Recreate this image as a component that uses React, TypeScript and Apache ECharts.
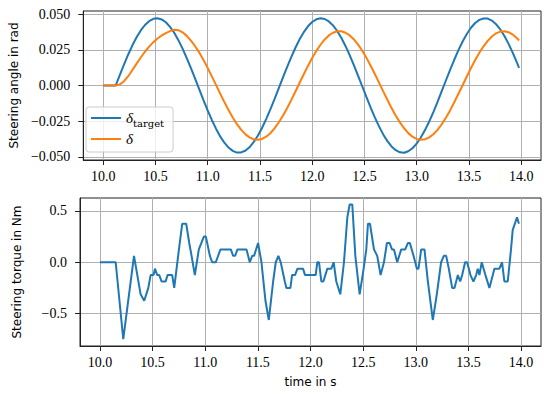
import React, { useEffect, useRef } from "react";
import * as echarts from "echarts";

// ---------- data ----------
const angleTime = [
  10.00, 10.04, 10.08, 10.12, 10.16, 10.20, 10.24, 10.28, 10.32, 10.36,
  10.40, 10.44, 10.48, 10.52, 10.56, 10.60, 10.64, 10.68, 10.72, 10.76,
  10.80, 10.84, 10.88, 10.92, 10.96, 11.00, 11.04, 11.08, 11.12, 11.16,
  11.20, 11.24, 11.28, 11.32, 11.36, 11.40, 11.44, 11.48, 11.52, 11.56,
  11.60, 11.64, 11.68, 11.72, 11.76, 11.80, 11.84, 11.88, 11.92, 11.96,
  12.00, 12.04, 12.08, 12.12, 12.16, 12.20, 12.24, 12.28, 12.32, 12.36,
  12.40, 12.44, 12.48, 12.52, 12.56, 12.60, 12.64, 12.68, 12.72, 12.76,
  12.80, 12.84, 12.88, 12.92, 12.96, 13.00, 13.04, 13.08, 13.12, 13.16,
  13.20, 13.24, 13.28, 13.32, 13.36, 13.40, 13.44, 13.48, 13.52, 13.56,
  13.60, 13.64, 13.68, 13.72, 13.76, 13.80, 13.84, 13.88, 13.92, 13.96,
  13.98,
];

const deltaTarget = [
  0, 0, 0, 0, 0.0075, 0.0148, 0.0217, 0.0281, 0.0337, 0.0385,
  0.0423, 0.0450, 0.0466, 0.0470, 0.0462, 0.0442, 0.0410, 0.0369, 0.0317, 0.0258,
  0.0192, 0.0122, 0.0048, -0.0027, -0.0102, -0.0174, -0.0241, -0.0302, -0.0356, -0.0400,
  -0.0434, -0.0457, -0.0469, -0.0468, -0.0456, -0.0432, -0.0396, -0.0351, -0.0297, -0.0235,
  -0.0167, -0.0095, -0.0020, 0.0055, 0.0129, 0.0199, 0.0264, 0.0323, 0.0373, 0.0414,
  0.0444, 0.0463, 0.0470, 0.0465, 0.0448, 0.0420, 0.0381, 0.0332, 0.0275, 0.0211,
  0.0141, 0.0068, -0.0007, -0.0082, -0.0155, -0.0223, -0.0286, -0.0342, -0.0389, -0.0426,
  -0.0452, -0.0467, -0.0470, -0.0460, -0.0439, -0.0407, -0.0364, -0.0312, -0.0252, -0.0186,
  -0.0115, -0.0040, 0.0035, 0.0109, 0.0180, 0.0247, 0.0308, 0.0360, 0.0404, 0.0437,
  0.0459, 0.0469, 0.0468, 0.0454, 0.0429, 0.0392, 0.0346, 0.0291, 0.0228, 0.0160,
  0.0124,
];

const deltaActual = [
  0, 0, 0, 0, 0.0008, 0.0030, 0.0065, 0.0108, 0.0153, 0.0196,
  0.0236, 0.0272, 0.0303, 0.0329, 0.0350, 0.0366, 0.0380, 0.0390, 0.0387, 0.0372,
  0.0347, 0.0314, 0.0275, 0.0230, 0.0179, 0.0123, 0.0064, 0.0004, -0.0057, -0.0116,
  -0.0172, -0.0224, -0.0270, -0.0309, -0.0340, -0.0363, -0.0376, -0.0380, -0.0374, -0.0358,
  -0.0334, -0.0300, -0.0259, -0.0212, -0.0159, -0.0102, -0.0042, 0.0019, 0.0079, 0.0137,
  0.0192, 0.0242, 0.0285, 0.0322, 0.0350, 0.0369, 0.0379, 0.0379, 0.0369, 0.0350,
  0.0322, 0.0286, 0.0243, 0.0193, 0.0138, 0.0080, 0.0020, -0.0041, -0.0100, -0.0158,
  -0.0211, -0.0258, -0.0299, -0.0333, -0.0358, -0.0374, -0.0380, -0.0376, -0.0363, -0.0341,
  -0.0310, -0.0271, -0.0225, -0.0174, -0.0117, -0.0058, 0.0002, 0.0063, 0.0122, 0.0178,
  0.0229, 0.0274, 0.0312, 0.0343, 0.0365, 0.0377, 0.0380, 0.0373, 0.0356, 0.0331,
  0.0315,
];

const torqueTime = [
  10.00, 10.149, 10.221, 10.323, 10.386, 10.42, 10.459, 10.481, 10.509, 10.522,
  10.544, 10.563, 10.585, 10.623, 10.642, 10.686, 10.705, 10.75, 10.781, 10.819,
  10.848, 10.87, 10.901, 10.939, 10.987, 11.006, 11.044, 11.066, 11.10, 11.145,
  11.243, 11.265, 11.284, 11.306, 11.392, 11.423, 11.446, 11.464, 11.502, 11.534,
  11.572, 11.604, 11.645, 11.67, 11.695, 11.717, 11.756, 11.771, 11.809, 11.825,
  11.853, 11.876, 11.929, 11.948, 12.049, 12.065, 12.081, 12.103, 12.122, 12.16,
  12.198, 12.22, 12.245, 12.283, 12.318, 12.35, 12.372, 12.397, 12.426, 12.467,
  12.505, 12.53, 12.546, 12.565, 12.603, 12.634, 12.666, 12.698, 12.726, 12.752,
  12.774, 12.793, 12.824, 12.862, 12.90, 12.925, 12.944, 12.979, 13.011, 13.026,
  13.052, 13.083, 13.115, 13.162, 13.20, 13.241, 13.267, 13.289, 13.314, 13.346,
  13.368, 13.40, 13.422, 13.441, 13.469, 13.488, 13.52, 13.548, 13.574, 13.589,
  13.605, 13.627, 13.662, 13.70, 13.732, 13.747, 13.795, 13.82, 13.842, 13.874,
  13.905, 13.921, 13.962, 13.98,
];

const torqueValue = [
  0, 0, -0.75, 0.0625, -0.3125, -0.375, -0.25, -0.125, -0.125, -0.0625,
  -0.125, -0.125, -0.1875, -0.1875, -0.125, -0.125, -0.25, 0.125, 0.375, 0.375,
  0.1875, 0.0625, -0.125, 0.125, 0.25, 0.25, 0.0625, 0, 0, 0.125,
  0.125, 0.0625, 0.0625, 0.125, 0.125, 0, 0.0625, 0.0625, 0.1875, 0,
  -0.375, -0.5625, -0.1875, 0, 0.0625, 0, -0.1875, -0.25, -0.25, -0.125,
  -0.125, -0.0625, -0.0625, -0.125, -0.125, 0, 0, -0.1875, -0.1875, -0.0625,
  -0.0625, 0, -0.1875, -0.3125, 0, 0.4375, 0.5625, 0.5625, 0.0625, -0.3125,
  -0.0625, 0.125, 0.375, 0.375, 0.125, 0.0625, -0.125, 0, 0.1875, 0.1875,
  0.125, 0.125, 0, 0.125, 0.125, 0.1875, 0.1875, 0.0625, -0.0625, -0.0625,
  0.125, 0.125, -0.1875, -0.5625, -0.3125, 0, 0.0625, 0.0625, -0.0625, -0.25,
  -0.25, -0.125, -0.1875, -0.125, 0, 0, -0.125, -0.1875, -0.125, -0.0625,
  -0.125, 0, -0.125, -0.25, -0.125, -0.0625, -0.0625, 0, -0.1875, -0.1875,
  0.125, 0.3125, 0.4375, 0.375,
];

const timeTicks = [10.0, 10.5, 11.0, 11.5, 12.0, 12.5, 13.0, 13.5, 14.0];
const angleTicks = [-0.05, -0.025, 0, 0.025, 0.05];
const torqueTicks = [-0.5, 0, 0.5];

// ---------- style ----------
const BLUE = "#1f77b4";
const ORANGE = "#ff7f0e";
const SERIF = "Liberation Serif";
const SERIF2 = "DejaVu Serif";
const SANS = "DejaVu Sans";
const GRIDC = "#b0b0b0";
const SPINE = "#222222";

const fmtNum = (v: number, d: number) => {
  const s = Math.abs(v).toFixed(d);
  return v < -1e-9 ? "\u2212" + s : s;
};

const tickRich = {
  n: { fontFamily: SERIF, fontSize: 14, color: "#000" },
};

export default function App() {
  const ref = useRef<HTMLDivElement>(null);

  useEffect(() => {
    if (!ref.current) return;
    const chart = echarts.init(ref.current, undefined, { renderer: "svg" });

    const xAxisBase = (gridIndex: number, withName: boolean) => ({
      type: "value",
      gridIndex,
      min: 9.81,
      max: 14.19,
      axisLine: { show: true, onZero: false, lineStyle: { color: SPINE, width: 1 } },
      axisTick: { show: true, length: 5, lineStyle: { color: SPINE, width: 1 }, customValues: timeTicks },
      axisLabel: {
        show: true,
        margin: 9,
        customValues: timeTicks,
        formatter: (v: number) => "{n|" + fmtNum(v, 1) + "}",
        fontFamily: SERIF,
        fontSize: 14,
        color: "#000",
        rich: tickRich,
      },
      splitLine: { show: true, lineStyle: { color: GRIDC, width: 1 } },
      ...(withName
        ? {
            name: "time in s",
            nameLocation: "middle",
            nameGap: 30,
            nameTextStyle: { fontFamily: SANS, fontSize: 12, color: "#000" },
          }
        : {}),
    });

    const yAxisBase = (
      gridIndex: number,
      min: number,
      max: number,
      ticks: number[],
      digits: number,
      name: string
    ) => ({
      type: "value",
      gridIndex,
      min,
      max,
      name,
      nameLocation: "middle",
      nameGap: 57,
      nameTextStyle: { fontFamily: SANS, fontSize: 12, color: "#000" },
      axisLine: { show: true, onZero: false, lineStyle: { color: SPINE, width: 1 } },
      axisTick: { show: true, length: 5, lineStyle: { color: SPINE, width: 1 }, customValues: ticks },
      axisLabel: {
        show: true,
        margin: 13,
        customValues: ticks,
        formatter: (v: number) => "{n|" + fmtNum(v, digits) + "}",
        fontFamily: SERIF,
        fontSize: 14,
        color: "#000",
        rich: tickRich,
      },
      splitLine: { show: true, lineStyle: { color: GRIDC, width: 1 } },
    });

    const angleTargetData = angleTime.map((t, i) => [t, deltaTarget[i]]);
    const angleActualData = angleTime.map((t, i) => [t, deltaActual[i]]);
    const torqueData = torqueTime.map((t, i) => [t, torqueValue[i]]);

    chart.setOption({
      animation: false,
      backgroundColor: "#ffffff",
      grid: [
        { left: 80, top: 11, width: 461, height: 149, show: true, borderColor: SPINE, borderWidth: 1, containLabel: false },
        { left: 80, top: 198, width: 461, height: 148, show: true, borderColor: SPINE, borderWidth: 1, containLabel: false },
      ],
      xAxis: [xAxisBase(0, false), xAxisBase(1, true)],
      yAxis: [
        yAxisBase(0, -0.0521, 0.0521, angleTicks, 3, "Steering angle in rad"),
        yAxisBase(1, -0.816, 0.626, torqueTicks, 1, "Steering torque in Nm"),
      ],
      legend: {
        orient: "vertical",
        left: 86,
        top: 107,
        z: 10,
        icon: "rect",
        itemWidth: 30,
        itemHeight: 2,
        itemGap: 1,
        padding: [1, 9, 3, 5],
        backgroundColor: "rgba(255,255,255,0.8)",
        borderColor: "#cccccc",
        borderWidth: 1,
        borderRadius: 3,
        data: ["δ_target", "δ"],
        formatter: (name: string) => (name === "δ_target" ? "{d|δ}{s|target}" : "{d|δ}"),
        textStyle: {
          fontFamily: SERIF,
          rich: {
            d: { fontFamily: SERIF, fontStyle: "italic", fontSize: 15, lineHeight: 20, height: 20, color: "#000" },
            s: { fontFamily: SERIF2, fontSize: 10, lineHeight: 11, verticalAlign: "bottom", color: "#000" },
          },
        },
      },
      series: [
        {
          name: "δ_target",
          type: "line",
          xAxisIndex: 0,
          yAxisIndex: 0,
          data: angleTargetData,
          symbol: "none",
          showSymbol: false,
          lineStyle: { color: BLUE, width: 2 },
          itemStyle: { color: BLUE },
          z: 3,
        },
        {
          name: "δ",
          type: "line",
          xAxisIndex: 0,
          yAxisIndex: 0,
          data: angleActualData,
          symbol: "none",
          showSymbol: false,
          lineStyle: { color: ORANGE, width: 2 },
          itemStyle: { color: ORANGE },
          z: 3,
        },
        {
          name: "torque",
          type: "line",
          xAxisIndex: 1,
          yAxisIndex: 1,
          data: torqueData,
          symbol: "none",
          showSymbol: false,
          lineStyle: { color: BLUE, width: 2 },
          itemStyle: { color: BLUE },
          z: 3,
        },
      ],
    });

    return () => chart.dispose();
  }, []);

  return (
    <div
      ref={ref}
      style={{ position: "absolute", left: 0, top: 0, width: 550, height: 394, background: "#fff" }}
    />
  );
}
